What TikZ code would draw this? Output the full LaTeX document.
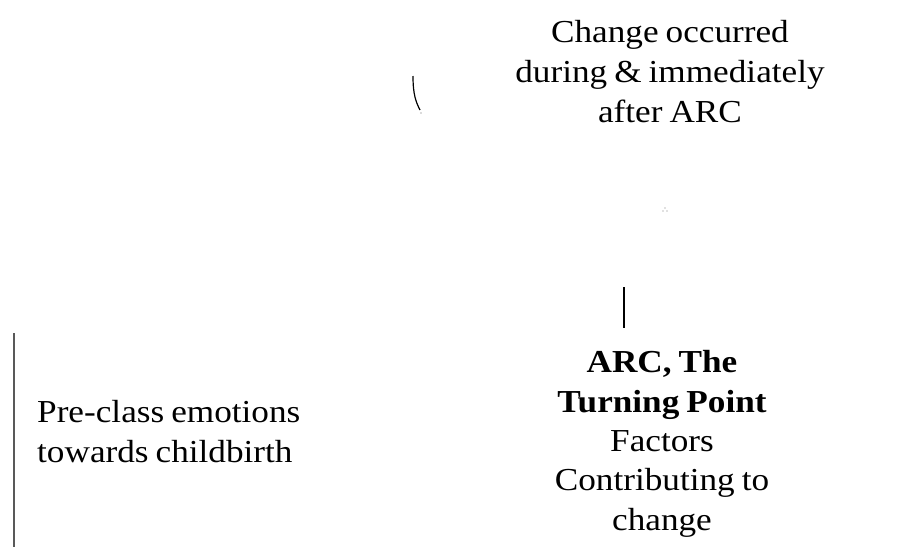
\documentclass[tikz,border=0pt]{standalone}
\usepackage{fontspec}
\usepackage{graphicx}
\setmainfont{Liberation Serif}
% narrower inter-word gaps
\newcommand{\tightspace}{\spaceskip 0.2em plus 0.05em\relax}
% a block of centred (or left-set) lines, stretched sideways; baseline = last line
\newcommand{\wideblock}[3]{\scalebox{#1}[1]{\begin{tabular}[b]{@{}#2@{}}#3\end{tabular}}}
\begin{document}
\begin{tikzpicture}[x=1pt,y=-1pt,
  block/.style={inner sep=0pt, anchor=base},
  top font/.style={font=\fontsize{32}{40}\selectfont\tightspace},
  low font/.style={font=\fontsize{32}{39.3}\selectfont\tightspace},
  side font/.style={font=\fontsize{32}{40}\selectfont\tightspace},
  rule/.style={line width=1.3pt},
  grey rule/.style={line width=1.3pt, draw=black!65}]
\useasboundingbox[fill=white] (0,0) rectangle (914,547);

% text blocks
\node[block, top font] (after) at (670,122)
  {\wideblock{1.1}{c}{Change occurred\\during \& immediately\\after ARC}};
\node[block, low font] (arc) at (662,530)
  {\wideblock{1.1}{c}{\textbf{ARC, The}\\\textbf{Turning Point}\\Factors\\Contributing to\\change}};
\node[block, side font, anchor=base west] (pre) at (37,462)
  {\wideblock{1.1}{l}{Pre-class emotions\\towards childbirth}};

% stray strokes and rules
\coordinate (s1) at (413,76);
\coordinate (s2) at (420,110);
\draw[line width=1.2pt] (s1) .. controls (413,95) and (416,102) .. (s2);
\fill[black!60] (421,113) circle (0.6);
\fill[black!50] (663,211) circle (0.7) (667,211) circle (0.7) (665,208) circle (0.7);
\coordinate (v1) at (624,287);
\coordinate (v2) at (624,328);
\draw[rule] (v1) -- (v2);
\coordinate (l1) at (14,333);
\coordinate (l2) at (14,547);
\draw[grey rule] (l1) -- (l2);
\end{tikzpicture}
\end{document}
